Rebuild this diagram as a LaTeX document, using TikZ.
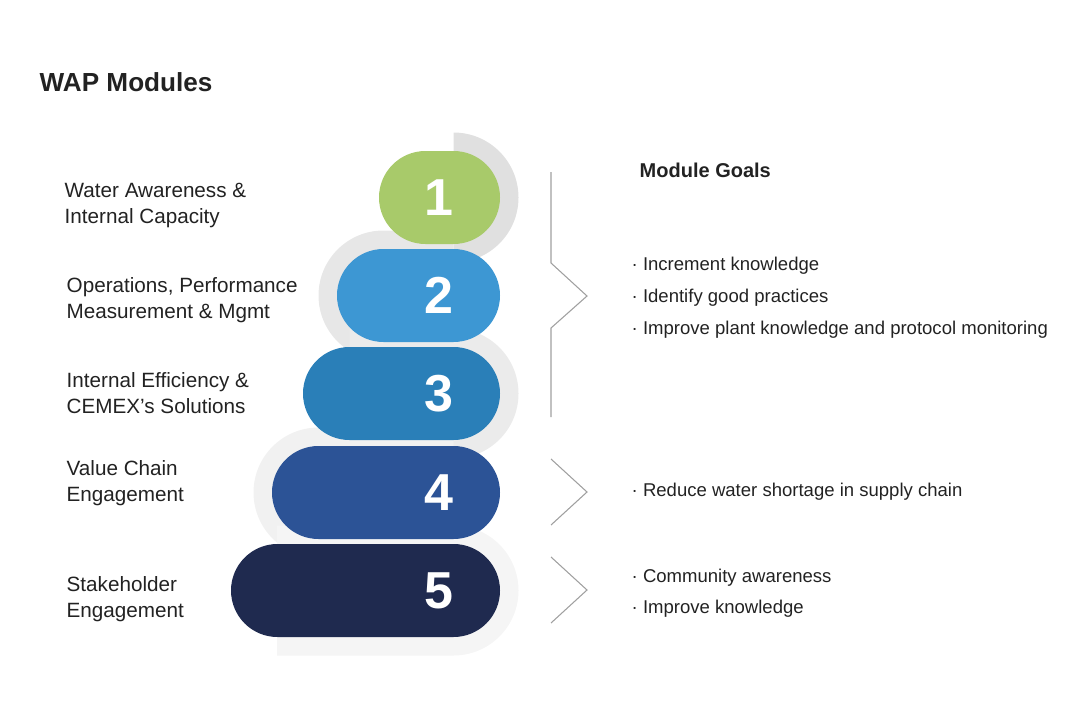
\documentclass[tikz,border=0pt]{standalone}
\usepackage{fontspec}
\setmainfont{Liberation Sans}
\usetikzlibrary{shapes.misc,positioning}
\definecolor{ink}{HTML}{222222}
\definecolor{mgreen}{HTML}{A8CA6A}
\definecolor{mblue}{HTML}{3D97D3}
\definecolor{msteel}{HTML}{2A7FB8}
\definecolor{mroyal}{HTML}{2C5396}
\definecolor{mnavy}{HTML}{1F2A4F}
\definecolor{bracketgray}{HTML}{A0A0A0}
\begin{document}
\begin{tikzpicture}[x=0.75pt,y=-0.75pt,every node/.style={font=\fontsize{15.5}{19.5}\selectfont,text=ink},
  pill/.style={rounded rectangle,draw=none,inner sep=0pt,minimum height=69.75pt},
  num/.style={font=\fontsize{39}{39}\selectfont\bfseries,text=white},
  lbl/.style={anchor=west,align=left},
  goal/.style={anchor=west,font=\fontsize{13.9}{16}\selectfont}]
\useasboundingbox (0,0) rectangle (1088,717);
% halos
\fill[gray!24] (453.5,132.5) arc[start angle=90,end angle=-90,radius=48.75pt] -- cycle;
\fill[gray!19] (453.5,230.5) -- (383.5,230.5) arc[start angle=90,end angle=270,radius=48.75pt] -- (453.5,360.5) -- cycle;
\fill[gray!16] (349.5,328.5) -- (453.5,328.5) arc[start angle=90,end angle=-90,radius=48.75pt] -- (349.5,458.5) -- cycle;
\fill[gray!11] (453.5,427.5) -- (318.5,427.5) arc[start angle=90,end angle=270,radius=48.75pt] -- (453.5,557.5) -- cycle;
\fill[gray!8] (277,525.5) -- (453.5,525.5) arc[start angle=90,end angle=-90,radius=48.75pt] -- (277,655.5) -- cycle;
% pills
\node[pill,fill=mgreen,minimum width=90.75pt] (p1) at (439.5,197.5) {};
\node[pill,fill=mblue,minimum width=122.25pt] (p2) at (418.5,295.5) {};
\node[pill,fill=msteel,minimum width=147.75pt] (p3) at (401.5,393.5) {};
\node[pill,fill=mroyal,minimum width=171pt] (p4) at (386,492.5) {};
\node[pill,fill=mnavy,minimum width=201.75pt] (p5) at (365.5,590.5) {};
\node[num] (n1) at (439,197.5) {1};
\node[num] (n2) at (439,295.5) {2};
\node[num] (n3) at (439,393.5) {3};
\node[num] (n4) at (439,492.5) {4};
\node[num] (n5) at (439,590.5) {5};
% titles
\node[anchor=west,font=\fontsize{19.6}{24}\selectfont\bfseries] (title) at (35,82) {WAP Modules};
\node[anchor=west,font=\fontsize{15}{18}\selectfont\bfseries] (goals) at (635,170) {Module Goals};
% module labels
\node[lbl] (l1) at (60,205) {Water Awareness \&\\Internal Capacity};
\node[lbl] (l2) at (62,300.5) {Operations, Performance\\Measurement \& Mgmt};
\node[lbl] (l3) at (62,393) {Internal Efficiency \&\\CEMEX's Solutions};
\node[lbl] (l4) at (62,483.5) {Value Chain\\Engagement};
\node[lbl] (l5) at (62,599.5) {Stakeholder\\Engagement};
% brackets
\draw[bracketgray,line width=0.8pt] (551,172) -- (551,263) -- (587,296) -- (551,328) -- (551,417);
\draw[bracketgray,line width=0.8pt] (551,459) -- (587,492) -- (551,525);
\draw[bracketgray,line width=0.8pt] (551,557) -- (587,590) -- (551,623);
% goals
\node[goal] (g1) at (627,265.5) {· Increment knowledge};
\node[goal] (g2) at (627,297.5) {· Identify good practices};
\node[goal] (g3) at (627,329.5) {· Improve plant knowledge and protocol monitoring};
\node[goal] (g4) at (627,492) {· Reduce water shortage in supply chain};
\node[goal] (g5) at (627,577.5) {· Community awareness};
\node[goal] (g6) at (627,609) {· Improve knowledge};
\end{tikzpicture}
\end{document}
